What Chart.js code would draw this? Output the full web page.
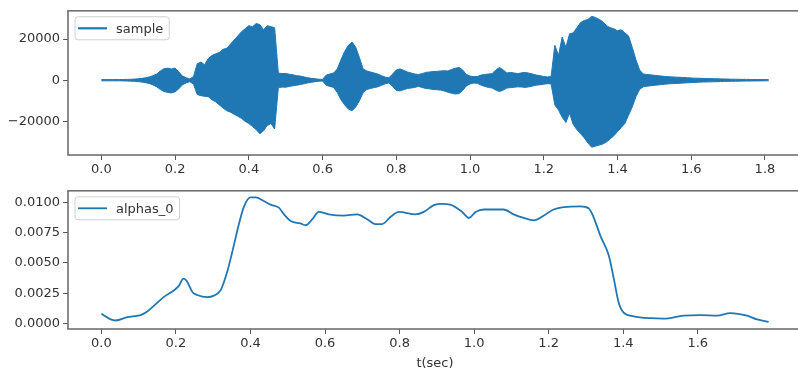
<!DOCTYPE html>
<html>
<head>
<meta charset="utf-8">
<script src="https://cdn.jsdelivr.net/npm/chart.js@4.4.1/dist/chart.umd.min.js"></script>
<style>
  html, body { margin: 0; padding: 0; background: #fff; }
  body { width: 798px; height: 371px; overflow: hidden; position: relative; }
  .panel { position: absolute; left: 0; }
  #top-panel { top: 0; }
  #bottom-panel { top: 180px; }
</style>
</head>
<body>
<div class="panel" id="top-panel"><canvas id="sample-chart" width="804" height="180"></canvas></div>
<div class="panel" id="bottom-panel"><canvas id="alpha-chart" width="804" height="191"></canvas></div>

<script>
// waveform "sample": envelope (upper / lower edge of the filled band)
const SAMPLE_T = [
  0.00, 0.01, 0.02, 0.03, 0.04, 0.05, 0.06, 0.07, 0.08, 0.09,
  0.10, 0.11, 0.12, 0.13, 0.14, 0.15, 0.16, 0.17, 0.18, 0.19,
  0.20, 0.21, 0.22, 0.23, 0.24, 0.25, 0.26, 0.27, 0.28, 0.29,
  0.30, 0.31, 0.32, 0.33, 0.34, 0.35, 0.36, 0.37, 0.38, 0.39,
  0.40, 0.41, 0.42, 0.43, 0.44, 0.45, 0.46, 0.47, 0.48, 0.49,
  0.50, 0.51, 0.52, 0.53, 0.54, 0.55, 0.56, 0.57, 0.58, 0.59,
  0.60, 0.61, 0.62, 0.63, 0.64, 0.65, 0.66, 0.67, 0.68, 0.69,
  0.70, 0.71, 0.72, 0.73, 0.74, 0.75, 0.76, 0.77, 0.78, 0.79,
  0.80, 0.81, 0.82, 0.83, 0.84, 0.85, 0.86, 0.87, 0.88, 0.89,
  0.90, 0.91, 0.92, 0.93, 0.94, 0.95, 0.96, 0.97, 0.98, 0.99,
  1.00, 1.01, 1.02, 1.03, 1.04, 1.05, 1.06, 1.07, 1.08, 1.09,
  1.10, 1.11, 1.12, 1.13, 1.14, 1.15, 1.16, 1.17, 1.18, 1.19,
  1.20, 1.21, 1.22, 1.23, 1.24, 1.25, 1.26, 1.27, 1.28, 1.29,
  1.30, 1.31, 1.32, 1.33, 1.34, 1.35, 1.36, 1.37, 1.38, 1.39,
  1.40, 1.41, 1.42, 1.43, 1.44, 1.45, 1.46, 1.47, 1.48, 1.49,
  1.50, 1.51, 1.52, 1.53, 1.54, 1.55, 1.56, 1.57, 1.58, 1.59,
  1.60, 1.61, 1.62, 1.63, 1.64, 1.65, 1.66, 1.67, 1.68, 1.69,
  1.70, 1.71, 1.72, 1.73, 1.74, 1.75, 1.76, 1.77, 1.78, 1.79,
  1.80, 1.81
];
const SAMPLE_UPPER = [
  300, 300, 300, 300, 300, 300, 350, 400, 450, 550,
  700, 900, 1200, 1600, 2200, 3000, 4500, 5600, 5800, 5500,
  5900, 4000, 2000, 1200, 600, 1800, 8000, 8800, 7500, 10500,
  12000, 12800, 13500, 15000, 15500, 17500, 19500, 21500, 23500, 25000,
  26500, 26000, 27500, 27000, 24500, 26500, 26000, 25500, 3500, 3200,
  3300, 2900, 2600, 2200, 2000, 1600, 1200, 900, 700, 500,
  400, 2500, 3000, 3500, 5500, 10000, 14000, 17000, 18500, 16000,
  11000, 5500, 4500, 4000, 3500, 3000, 2200, 1500, 1200, 3000,
  5000, 5500, 4800, 4000, 3500, 3000, 2800, 3200, 3800, 4000,
  4200, 4300, 4500, 4600, 4500, 5200, 5800, 6200, 5000, 2800,
  2000, 1800, 1800, 2500, 2800, 3000, 3200, 5000, 6200, 5000,
  3500, 3800, 3500, 3200, 3600, 3800, 3400, 3000, 2500, 2200,
  1800, 1600, 1800, 17000, 12000, 21000, 16000, 22500, 23000, 25500,
  28000, 29000, 29500, 31000, 30500, 29500, 28500, 26500, 25500, 25000,
  24000, 24500, 23000, 21500, 16000, 10000, 5000, 3000, 2800, 2600,
  2400, 2200, 2000, 1800, 1700, 1600, 1500, 1400, 1300, 1200,
  1100, 1000, 950, 900, 850, 800, 750, 700, 650, 600,
  550, 500, 480, 450, 420, 400, 380, 360, 340, 320,
  300, 300
];
const SAMPLE_LOWER = [
  -300, -300, -300, -300, -300, -300, -350, -400, -450, -550,
  -700, -900, -1200, -1600, -2300, -3200, -4500, -5500, -5900, -6200,
  -5600, -4200, -2200, -1300, -700, -2000, -6900, -7500, -7800, -8000,
  -9500, -10500, -12000, -13500, -14800, -15500, -16500, -17500, -18500, -20000,
  -21000, -22500, -24000, -26000, -24500, -22000, -21000, -23700, -3700, -3300,
  -3400, -3000, -2700, -2400, -2100, -1700, -1300, -1000, -700, -500,
  -400, -2500, -3000, -3500, -6000, -9500, -12000, -14000, -14800, -13000,
  -10000, -6000, -4500, -4000, -3600, -3200, -2500, -1700, -1300, -3000,
  -5000, -5200, -4600, -4000, -3800, -3500, -3000, -3500, -4000, -4200,
  -4500, -4600, -4800, -5200, -5800, -6300, -6700, -6500, -5000, -2800,
  -1800, -1400, -1500, -2400, -3000, -3500, -3800, -4800, -5500, -4800,
  -3800, -3600, -3400, -3200, -3300, -3500, -3200, -2800, -2400, -2200,
  -1900, -1700, -1800, -12000, -14500, -18000, -20500, -16000, -21500, -24000,
  -26000, -28000, -30500, -32500, -32000, -31500, -31000, -30000, -28500, -27000,
  -25000, -23000, -21000, -17000, -13000, -8000, -4500, -3200, -2900, -2700,
  -2500, -2300, -2100, -1900, -1750, -1650, -1550, -1450, -1350, -1250,
  -1150, -1050, -950, -900, -850, -800, -750, -700, -650, -600,
  -550, -500, -480, -450, -420, -400, -380, -360, -340, -320,
  -300, -300
];

// "alphas_0" curve
const ALPHA_T = [
  0.000, 0.025, 0.038, 0.070, 0.105, 0.119, 0.140, 0.168, 0.195, 0.208,
  0.220, 0.229, 0.244, 0.257, 0.284, 0.302, 0.320, 0.338, 0.355, 0.369,
  0.382, 0.400, 0.414, 0.436, 0.454, 0.476, 0.490, 0.508, 0.534, 0.548,
  0.566, 0.583, 0.610, 0.650, 0.686, 0.713, 0.735, 0.753, 0.776, 0.798,
  0.843, 0.865, 0.892, 0.913, 0.936, 0.968, 0.986, 1.004, 1.026, 1.079,
  1.106, 1.133, 1.160, 1.187, 1.213, 1.240, 1.285, 1.307, 1.320, 1.339,
  1.361, 1.374, 1.388, 1.401, 1.428, 1.473, 1.508, 1.562, 1.607, 1.652,
  1.687, 1.732, 1.759, 1.790
];
const ALPHAS_0 = [
  0.0008, 0.00034, 0.00025, 0.00052, 0.0007, 0.0009, 0.00144, 0.0022, 0.00275, 0.0031,
  0.0037, 0.0035, 0.0026, 0.00235, 0.00217, 0.0023, 0.00275, 0.0043, 0.0064, 0.0082,
  0.0096, 0.0104, 0.0104, 0.0101, 0.0098, 0.00955, 0.009, 0.00845, 0.00825, 0.0081,
  0.0086, 0.0092, 0.009, 0.0089, 0.009, 0.0086, 0.0082, 0.0082, 0.0088, 0.0092,
  0.009, 0.0092, 0.00976, 0.00987, 0.0098, 0.0092, 0.0087, 0.0092, 0.0094, 0.0094,
  0.009, 0.0087, 0.0085, 0.0089, 0.0094, 0.0096, 0.00965, 0.0095, 0.0088, 0.0072,
  0.00562, 0.0038, 0.0017, 0.0009, 0.0006, 0.00044, 0.0004, 0.00065, 0.0007, 0.00065,
  0.00086, 0.00065, 0.00034, 0.00013
];

const SAMPLE_X_TICKS = [0.0, 0.2, 0.4, 0.6, 0.8, 1.0, 1.2, 1.4, 1.6, 1.8];
const SAMPLE_Y_TICKS = [-20000, 0, 20000];
const ALPHA_X_TICKS  = [0.0, 0.2, 0.4, 0.6, 0.8, 1.0, 1.2, 1.4, 1.6];
const ALPHA_Y_TICKS  = [0.0, 0.0025, 0.005, 0.0075, 0.01];

const BLUE = '#1f77b4';
const FONT = { family: "'DejaVu Sans', sans-serif", size: 13 };
const TEXT = '#333';
const SPINE = '#707070';

// matplotlib draws the legend inside the axes and a full frame, so do both by hand
const mplFrame = {
  id: 'mplFrame',
  afterDraw(chart, args, opts) {
    const { ctx, chartArea: a } = chart;
    ctx.save();
    ctx.strokeStyle = SPINE;
    ctx.lineWidth = 1.6;
    ctx.strokeRect(a.left, a.top, a.right - a.left, a.bottom - a.top);

    ctx.font = `${FONT.size}px ${FONT.family}`;
    const tw = ctx.measureText(opts.label).width;
    const x = a.left + 7, y = a.top + 6, w = 41 + tw + 6, h = 23;
    ctx.fillStyle = 'rgba(255,255,255,0.8)';
    ctx.strokeStyle = '#d0d0d0';
    ctx.lineWidth = 1;
    ctx.beginPath();
    ctx.roundRect(x, y, w, h, 3);
    ctx.fill();
    ctx.stroke();

    ctx.strokeStyle = BLUE;
    ctx.lineWidth = opts.lineWidth;
    ctx.beginPath();
    ctx.moveTo(x + 3, y + h / 2);
    ctx.lineTo(x + 32, y + h / 2);
    ctx.stroke();

    ctx.fillStyle = TEXT;
    ctx.textBaseline = 'middle';
    ctx.fillText(opts.label, x + 41, y + h / 2 + 1);
    ctx.restore();
  }
};

function axisX(min, max, ticks, height, title) {
  return {
    type: 'linear', min, max,
    border: { display: false },
    grid: { drawOnChartArea: false, drawTicks: true, tickLength: 5, color: '#555' },
    ticks: { font: FONT, color: TEXT, padding: 2, maxRotation: 0, autoSkip: false,
             callback: v => v.toFixed(1) },
    title: title ? { display: true, text: title, font: FONT, color: TEXT, padding: { top: 0, bottom: 0 } } : { display: false },
    afterBuildTicks: s => { s.ticks = ticks.map(v => ({ value: v })); },
    afterFit: s => { s.height = height; }
  };
}

function axisY(min, max, ticks, fmt) {
  return {
    type: 'linear', min, max,
    border: { display: false },
    grid: { drawOnChartArea: false, drawTicks: true, tickLength: 5, color: '#555' },
    ticks: { font: FONT, color: TEXT, padding: 3, autoSkip: false, callback: fmt },
    afterBuildTicks: s => { s.ticks = ticks.map(v => ({ value: v })); },
    afterFit: s => { s.width = 68; }
  };
}

const xy = (xs, ys) => xs.map((x, i) => ({ x, y: ys[i] }));

new Chart(document.getElementById('sample-chart'), {
  type: 'line',
  data: {
    datasets: [
      { label: 'sample', data: xy(SAMPLE_T, SAMPLE_UPPER), borderColor: BLUE, backgroundColor: BLUE,
        borderWidth: 1, pointRadius: 0, fill: '+1', tension: 0 },
      { label: 'sample_low', data: xy(SAMPLE_T, SAMPLE_LOWER), borderColor: BLUE,
        borderWidth: 1, pointRadius: 0, fill: false, tension: 0 }
    ]
  },
  options: {
    responsive: false, animation: false, devicePixelRatio: 1,
    layout: { padding: { left: 0, top: 9, right: 2, bottom: 0 } },
    plugins: { legend: { display: false }, tooltip: { enabled: false },
               mplFrame: { label: 'sample', lineWidth: 2.2 } },
    scales: {
      x: axisX(-0.0905, 1.9005, SAMPLE_X_TICKS, 25),
      y: axisY(-36300, 33700, SAMPLE_Y_TICKS, v => v < 0 ? '\u2212' + Math.abs(v) : String(v))
    }
  },
  plugins: [mplFrame]
});

new Chart(document.getElementById('alpha-chart'), {
  type: 'line',
  data: {
    datasets: [
      { label: 'alphas_0', data: xy(ALPHA_T, ALPHAS_0), borderColor: BLUE,
        borderWidth: 1.8, pointRadius: 0, fill: false, cubicInterpolationMode: 'monotone' }
    ]
  },
  options: {
    responsive: false, animation: false, devicePixelRatio: 1,
    layout: { padding: { left: 0, top: 4, right: 2, bottom: 0 } },
    plugins: { legend: { display: false }, tooltip: { enabled: false },
               mplFrame: { label: 'alphas_0', lineWidth: 1.8 } },
    scales: {
      x: axisX(-0.0895, 1.8795, ALPHA_X_TICKS, 42, 't(sec)'),
      y: axisY(-0.00045, 0.01094, ALPHA_Y_TICKS, v => v.toFixed(4))
    }
  },
  plugins: [mplFrame]
});
</script>
</body>
</html>
